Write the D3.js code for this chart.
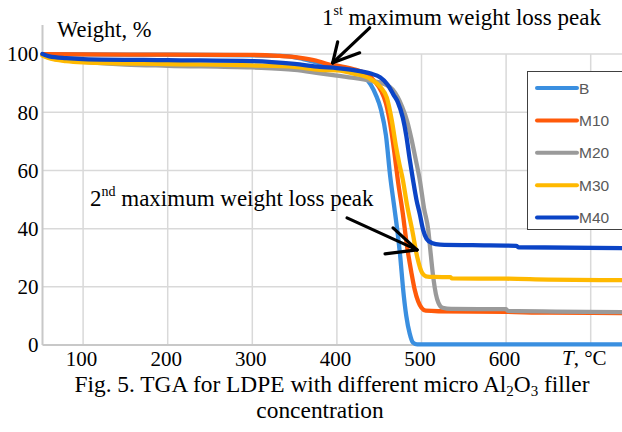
<!DOCTYPE html>
<html>
<head>
<meta charset="utf-8">
<script src="https://cdn.jsdelivr.net/npm/d3@7"></script>
<style>
  html, body { margin: 0; padding: 0; background: #fff; }
  svg { display: block; }
</style>
</head>
<body>
<svg id="chart" width="622" height="432"></svg>
<script>
// TGA curves: [temperature °C, weight %]
const seriesNames = ["B", "M10", "M20", "M30", "M40"];
const seriesColors = ["#3a8fe0", "#ff5a0a", "#9a9a9a", "#ffb900", "#0b44c6"];

const B = [[52,100],[100,99.9],[200,99.8],[300,99.6],[340,99.3],[360,98.3],[380,96.8],[400,95.8],[420,94.5],[432,92.5],[440,89.5],[446,86],[452,81],[458,72],[463,58],[468,47],[472,38],[475,30],[478,20],[482,10],[486,4],[490,0.8],[495,0.2],[737,0.2]];
const M10 = [[52,100],[100,99.9],[200,99.8],[300,99.7],[330,99.4],[355,98.8],[375,97.8],[390,96.5],[400,96],[420,94.8],[435,93.2],[445,90.5],[452,87.5],[458,83],[463,76],[468,66],[472,56.7],[478,45],[483,33.7],[488,25],[492,19],[496,15],[500,12.8],[505,11.8],[520,11.6],[600,11.4],[650,11.1],[737,11]];
const M20 = [[52,99.6],[60,98.8],[80,97.8],[100,97.3],[150,96.4],[200,96],[300,95.4],[350,94.6],[380,93.4],[400,92.6],[420,91.8],[440,90.8],[455,89.8],[466,87.8],[477,82],[483,77],[488,71],[493,64],[498,56.7],[503,47],[508,39.5],[511,31],[514,23],[517,17.5],[520,14.5],[525,12.8],[535,12.4],[600,12.3],[602,11.7],[737,11.3]];
const M30 = [[52,99.5],[60,98.6],[80,97.6],[100,97.2],[200,96.6],[300,96.1],[350,95.6],[380,94.6],[400,94.4],[420,93.3],[440,91.4],[452,88.5],[459,85],[465,77],[470,68],[474,62],[478,56.7],[483,48],[489,39.5],[495,30.2],[501,24.7],[507,23.5],[515,23.4],[534,23.3],[536,22.9],[600,22.8],[650,22.5],[737,22.3]];
const M40 = [[52,100],[60,99.2],[80,98.6],[100,98.3],[200,97.9],[300,97.6],[350,96.6],[380,95.6],[400,95.2],[420,94.5],[440,93.3],[451,92],[460,89.5],[467,86],[472,83.5],[478,78],[482,72],[486,64],[490,56.7],[494,50],[498,45],[502,39.5],[506,36.5],[512,35.1],[522,34.5],[560,34.3],[612,34.1],[615,33.6],[737,33.3]];
const seriesData = [B, M10, M20, M30, M40];

const xTicks = [100, 200, 300, 400, 500, 600];
const xGrid = [100, 200, 300, 400, 500, 600, 700];
const yTicks = [0, 20, 40, 60, 80, 100];

const svg = d3.select("#chart");
const serif = "'Liberation Serif', 'Times New Roman', serif";

const x = d3.scaleLinear().domain([52, 737]).range([42.5, 622]);
const y = d3.scaleLinear().domain([0, 110]).range([345, 25]);

// gridlines
const grid = svg.append("g").attr("stroke", "#d9d9d9").attr("stroke-width", 1.5);
grid.selectAll("line.v").data(xGrid).join("line")
  .attr("x1", d => x(d)).attr("x2", d => x(d))
  .attr("y1", y(0)).attr("y2", y(100));
grid.selectAll("line.h").data(yTicks.filter(d => d > 0)).join("line")
  .attr("x1", x.range()[0]).attr("x2", x.range()[1])
  .attr("y1", d => y(d)).attr("y2", d => y(d));

// axis lines
svg.append("line").attr("x1", x.range()[0]).attr("x2", x.range()[1])
  .attr("y1", y(0)).attr("y2", y(0)).attr("stroke", "#c8c8c8").attr("stroke-width", 2);
svg.append("line").attr("x1", x.range()[0]).attr("x2", x.range()[0])
  .attr("y1", y(0)).attr("y2", y(110)).attr("stroke", "#c8c8c8").attr("stroke-width", 2);

// tick labels via axis generators
const yAxis = d3.axisLeft(y).tickValues(yTicks).tickSize(0).tickPadding(4);
const gy = svg.append("g").attr("transform", `translate(${x.range()[0]},0)`).call(yAxis);
gy.select(".domain").remove();
gy.selectAll("text").attr("font-family", serif).attr("font-size", 21).attr("fill", "#000");

const xAxis = d3.axisBottom(x).tickValues(xTicks).tickSize(0).tickPadding(6);
const gx = svg.append("g").attr("transform", `translate(-2,${y(0)})`).call(xAxis);
gx.select(".domain").remove();
gx.selectAll("text").attr("font-family", serif).attr("font-size", 21).attr("fill", "#000");

// axis titles
svg.append("text").attr("x", 57).attr("y", 37)
  .attr("font-family", serif).attr("font-size", 22.5).text("Weight, %");
const tTitle = svg.append("text").attr("x", 562).attr("y", 365)
  .attr("font-family", serif).attr("font-size", 21);
tTitle.append("tspan").attr("font-style", "italic").text("T");
tTitle.append("tspan").text(", °C");

// curves
const line = d3.line().x(d => x(d[0])).y(d => y(d[1])).curve(d3.curveMonotoneX);
svg.append("g").selectAll("path").data(seriesData).join("path")
  .attr("d", line)
  .attr("fill", "none")
  .attr("stroke", (d, i) => seriesColors[i])
  .attr("stroke-width", 4.3)
  .attr("stroke-linejoin", "round")
  .attr("stroke-linecap", "round");

// legend
const lg = svg.append("g");
lg.append("rect").attr("x", 527.5).attr("y", 71.5).attr("width", 120).attr("height", 158)
  .attr("fill", "#fff").attr("stroke", "#404040").attr("stroke-width", 1);
const items = lg.selectAll("g.item").data(seriesNames).join("g")
  .attr("transform", (d, i) => `translate(0,${88 + i * 32.4})`);
items.append("line").attr("x1", 537).attr("x2", 577).attr("y1", 0).attr("y2", 0)
  .attr("stroke", (d, i) => seriesColors[i]).attr("stroke-width", 4).attr("stroke-linecap", "round");
items.append("text").attr("x", 579).attr("y", 0).attr("dy", "0.36em")
  .attr("font-family", "'Liberation Sans', Arial, sans-serif").attr("font-size", 15.5)
  .attr("fill", "#595959").text(d => d);

// annotations
function annot(label, sup, tx, ty) {
  const t = svg.append("text").attr("x", tx).attr("y", ty)
    .attr("font-family", serif).attr("font-size", 23).attr("fill", "#000");
  t.append("tspan").text(label);
  t.append("tspan").attr("font-size", 14).attr("dy", -10).text(sup);
  t.append("tspan").attr("dy", 10).text(" maximum weight loss peak");
}
annot("1", "st", 322, 25);
annot("2", "nd", 90, 206);

function arrow(tipT, tipW, tail, barbA, barbB) {
  const tx = x(tipT), ty = y(tipW);
  const g = svg.append("g").attr("stroke", "#000").attr("stroke-width", 3.2)
    .attr("stroke-linecap", "round").attr("fill", "none");
  g.append("line").attr("x1", tx + tail[0]).attr("y1", ty + tail[1]).attr("x2", tx).attr("y2", ty);
  g.append("line").attr("x1", tx + barbA[0]).attr("y1", ty + barbA[1]).attr("x2", tx).attr("y2", ty);
  g.append("line").attr("x1", tx + barbB[0]).attr("y1", ty + barbB[1]).attr("x2", tx).attr("y2", ty);
}
arrow(395, 97, [37, -35], [5, -21], [27, -10]);
arrow(494.7, 32.7, [-70, -32], [-24, -22], [-32, 4]);

// caption
const cap1 = svg.append("text").attr("x", 332).attr("y", 392).attr("text-anchor", "middle")
  .attr("font-family", serif).attr("font-size", 23.4);
cap1.append("tspan").text("Fig. 5. TGA for LDPE with different micro Al");
cap1.append("tspan").attr("font-size", 15).attr("dy", 4).text("2");
cap1.append("tspan").attr("dy", -4).text("O");
cap1.append("tspan").attr("font-size", 15).attr("dy", 4).text("3");
cap1.append("tspan").attr("dy", -4).text(" filler");
svg.append("text").attr("x", 320).attr("y", 418).attr("text-anchor", "middle")
  .attr("font-family", serif).attr("font-size", 23.4).text("concentration");
</script>
</body>
</html>
